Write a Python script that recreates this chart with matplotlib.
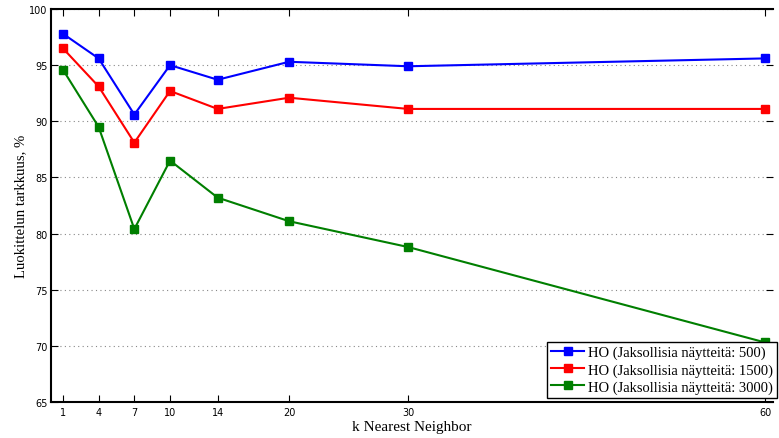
import matplotlib
matplotlib.use("Agg")
import matplotlib.pyplot as plt

k = [1, 4, 7, 10, 14, 20, 30, 60]
acc_500 = [97.8, 95.6, 90.6, 95.0, 93.7, 95.3, 94.9, 95.6]
acc_1500 = [96.5, 93.1, 88.1, 92.7, 91.1, 92.1, 91.1, 91.1]
acc_3000 = [94.6, 89.5, 80.4, 86.5, 83.2, 81.1, 78.8, 70.3]
labels = ["HO (Jaksollisia näytteitä: 500)",
          "HO (Jaksollisia näytteitä: 1500)",
          "HO (Jaksollisia näytteitä: 3000)"]
yticks = [65, 70, 75, 80, 85, 90, 95, 100]

fig = plt.figure(figsize=(7.79, 4.39), dpi=100)
ax = fig.add_axes([51/779, 1 - 403/439, (773 - 51)/779, (403 - 10)/439])

for vals, col, lab in zip([acc_500, acc_1500, acc_3000], ["#0000ff", "#ff0000", "#007f00"], labels):
    ax.plot(k, vals, color=col, lw=1.5, marker="s", ms=5.5, label=lab)

ax.set_xlim(0, 60.65)
ax.set_ylim(65, 100)
ax.set_xticks(k)
ax.set_yticks(yticks)
ax.tick_params(direction="in", length=5, width=0.8, labelsize=7, top=True, right=True)
ax.tick_params(axis="y", pad=2.5)
ax.tick_params(axis="x", pad=3.5)
ax.yaxis.grid(True, linestyle=(0, (1, 3)), color="#888888", lw=0.8)
for s in ["left", "bottom", "top"]:
    ax.spines[s].set_linewidth(1.5)
ax.spines["right"].set_visible(False)

serif = ["Liberation Serif", "DejaVu Serif"]
ax.set_xlabel("k Nearest Neighbor", family=serif, fontsize=11, labelpad=2)
ax.set_ylabel("Luokittelun tarkkuus, %", family=serif, fontsize=10.6)
ax.yaxis.set_label_coords(-24/722, 0.5)

leg = ax.legend(loc="lower right", bbox_to_anchor=(1.006, 0.01), prop={"family": serif, "size": 10.5},
                fancybox=False, edgecolor="black", framealpha=1, borderpad=0.3,
                labelspacing=0.25, handlelength=2.2, handletextpad=0.3, borderaxespad=0)
leg.get_frame().set_linewidth(1.0)

fig.savefig("out.png", dpi=100)
